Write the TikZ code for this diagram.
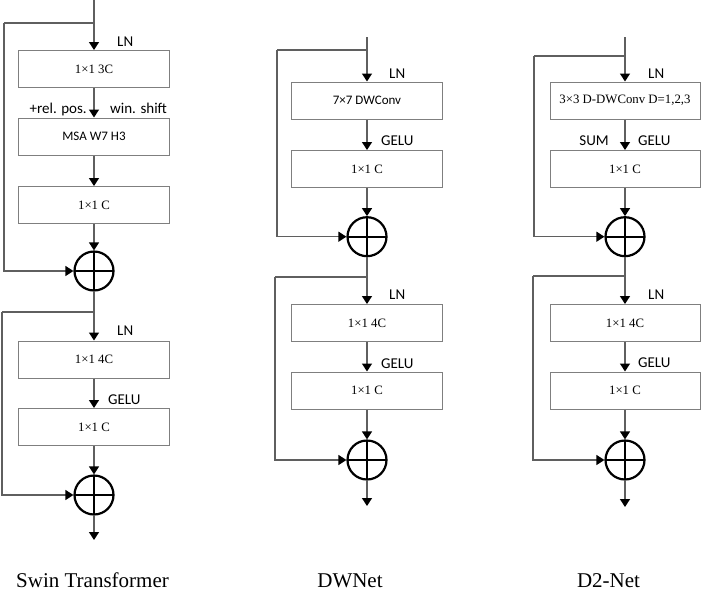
\documentclass[tikz,border=0pt]{standalone}
\usepackage{fontspec}
\setmainfont{Liberation Serif}
\newfontfamily\lblfont{Carlito}
\usetikzlibrary{arrows.meta}
\definecolor{linegray}{HTML}{5F5F5F}
\definecolor{boxgray}{HTML}{7F7F7F}
\begin{document}
\begin{tikzpicture}[x=1pt,y=-1pt,
  conn/.style={draw=linegray, line width=1.3pt},
  arr/.style={conn, -{Triangle[length=8pt,width=10pt,color=black]}},
  blk/.style={draw=boxgray, line width=1pt, minimum width=151pt, minimum height=37pt, inner sep=0pt, font=\fontsize{12.8}{14}\selectfont},
  sblk/.style={blk, font=\lblfont\fontsize{13}{15}\selectfont},
  addop/.style={circle, draw=black, line width=2.2pt, minimum size=39pt, inner sep=0pt,
    path picture={\draw[line width=2.2pt] (path picture bounding box.north) -- (path picture bounding box.south) (path picture bounding box.west) -- (path picture bounding box.east);}},
  lbl/.style={font=\lblfont\fontsize{15}{17}\selectfont, inner sep=0pt},
  ttl/.style={font=\fontsize{21}{24}\selectfont, inner sep=0pt}]
\useasboundingbox (0,0) rectangle (702,603);

% ---------- Swin Transformer ----------
\node[blk] (sa) at (94,69) {1×1 3C};
\node[sblk] (sb) at (94,136.5) {MSA W7 H3};
\node[blk] (sc) at (94,205) {1×1 C};
\node[addop] (sp) at (94,271) {};
\coordinate (st) at (94,0);
\coordinate (sj) at (94,23);
\coordinate (sl) at (4,23);
\draw[arr] (st) -- (sa);
\draw[conn] (sj) -- (sl);
\draw[arr] (sl) |- (sp.west);
\draw[arr] (sa) -- (sb);
\draw[arr] (sb) -- (sc);
\draw[arr] (sc) -- (sp);

\node[blk] (sd) at (94,359.5) {1×1 4C};
\node[blk] (se) at (94,427) {1×1 C};
\node[addop] (sq) at (94,495) {};
\coordinate (sk) at (94,312);
\coordinate (sm) at (2,312);
\coordinate (so) at (94,540);
\draw[arr] (sp) -- (sd);
\draw[conn] (sk) -- (sm);
\draw[arr] (sm) |- (sq.west);
\draw[arr] (sd) -- (se);
\draw[arr] (se) -- (sq);
\draw[arr] (sq) -- (so);

\node[lbl, anchor=base west] (sln) at (117,46) {LN};
\node[lbl, anchor=base east] (srp) at (87,113.5) {+rel. pos.};
\node[lbl, anchor=base west] (sws) at (110,113.5) {win. shift};
\node[lbl, anchor=base west] (sln2) at (117,335) {LN};
\node[lbl, anchor=base west] (sge) at (108,404) {GELU};

% ---------- DWNet ----------
\node[sblk] (wa) at (367,100.5) {7×7 DWConv};
\node[blk] (wb) at (367,169) {1×1 C};
\node[addop] (wp) at (367,236.7) {};
\coordinate (wt) at (367,37);
\coordinate (wj) at (367,50);
\coordinate (wl) at (277,50);
\draw[arr] (wt) -- (wa);
\draw[conn] (wj) -- (wl);
\draw[arr] (wl) |- (wp.west);
\draw[arr] (wa) -- (wb);
\draw[arr] (wb) -- (wp);

\node[blk] (wc) at (367,323) {1×1 4C};
\node[blk] (wd) at (367,390.5) {1×1 C};
\node[addop] (wq) at (367,460) {};
\coordinate (wk) at (367,277);
\coordinate (wm) at (275,277);
\coordinate (wo) at (367,506);
\draw[arr] (wp) -- (wc);
\draw[conn] (wk) -- (wm);
\draw[arr] (wm) |- (wq.west);
\draw[arr] (wc) -- (wd);
\draw[arr] (wd) -- (wq);
\draw[arr] (wq) -- (wo);

\node[lbl, anchor=base west] (wln) at (389,78) {LN};
\node[lbl, anchor=base west] (wge) at (381,145) {GELU};
\node[lbl, anchor=base west] (wln2) at (389,299) {LN};
\node[lbl, anchor=base west] (wge2) at (381,368) {GELU};

% ---------- D2-Net ----------
\node[blk, minimum width=150pt] (da) at (625,100.5) {3×3 D-DWConv D=1,2,3};
\node[blk, minimum width=150pt] (db) at (625,169) {1×1 C};
\node[addop] (dp) at (625,236.7) {};
\coordinate (dt) at (625,37);
\coordinate (dj) at (625,56);
\coordinate (dl) at (534,56);
\draw[arr] (dt) -- (da);
\draw[conn] (dj) -- (dl);
\draw[arr] (dl) |- (dp.west);
\draw[arr] (da) -- (db);
\draw[arr] (db) -- (dp);

\node[blk, minimum width=150pt] (dc) at (625,323) {1×1 4C};
\node[blk, minimum width=150pt] (dd) at (625,390.5) {1×1 C};
\node[addop] (dq) at (625,460) {};
\coordinate (dk) at (625,276);
\coordinate (dm) at (533,276);
\coordinate (do) at (625,507);
\draw[arr] (dp) -- (dc);
\draw[conn] (dk) -- (dm);
\draw[arr] (dm) |- (dq.west);
\draw[arr] (dc) -- (dd);
\draw[arr] (dd) -- (dq);
\draw[arr] (dq) -- (do);

\node[lbl, anchor=base west] (dln) at (648,78) {LN};
\node[lbl, anchor=base east] (dsu) at (609,145) {SUM};
\node[lbl, anchor=base west] (dge) at (638,145) {GELU};
\node[lbl, anchor=base west] (dln2) at (648,299) {LN};
\node[lbl, anchor=base west] (dge2) at (638,367) {GELU};

% ---------- titles ----------
\node[ttl, anchor=base] (t1) at (92.5,587) {Swin Transformer};
\node[ttl, anchor=base] (t2) at (350,587) {DWNet};
\node[ttl, anchor=base] (t3) at (608.5,587) {D2-Net};
\end{tikzpicture}
\end{document}
